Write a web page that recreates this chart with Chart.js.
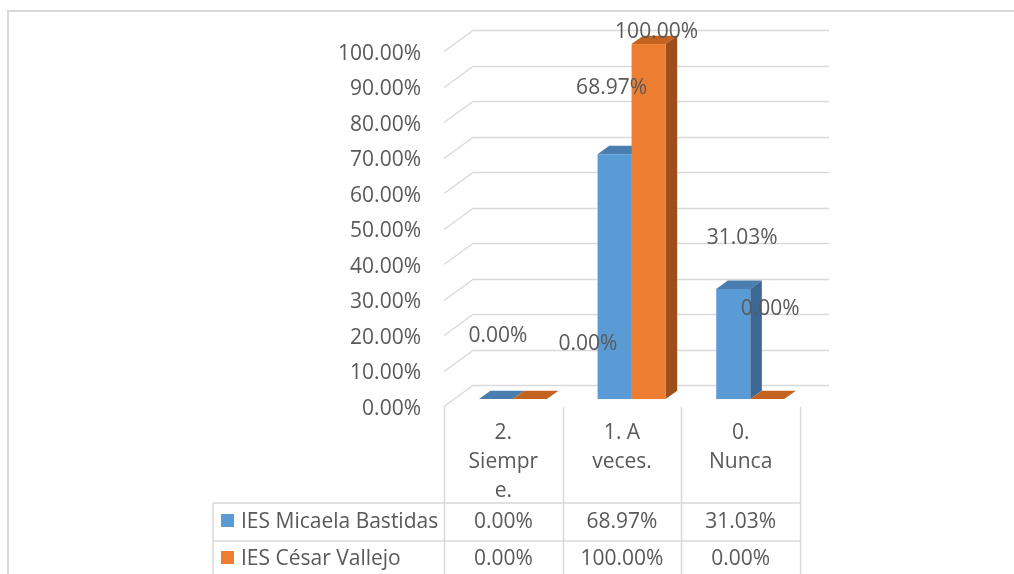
<!DOCTYPE html>
<html>
<head>
<meta charset="utf-8">
<script src="https://cdn.jsdelivr.net/npm/chart.js@4.4.1/dist/chart.umd.min.js"></script>
<style>
  html, body { margin: 0; padding: 0; background: #ffffff; }
  #wrap { position: relative; width: 1014px; height: 574px; }
  canvas { display: block; }
</style>
</head>
<body>
<div id="wrap"><canvas id="chart" width="1014" height="574"></canvas></div>
<script>
// Categories (wrapped as they appear in the data table under the plot)
const categories = [['2.', 'Siempr', 'e.'], ['1. A', 'veces.'], ['0.', 'Nunca']];
const seriesNames = ['IES Micaela Bastidas', 'IES César Vallejo'];
// Percentages per category
const micaelaBastidas = [0, 68.97, 31.03];
const cesarVallejo = [0, 100, 0];
// Value axis ticks
const yTicks = [0, 10, 20, 30, 40, 50, 60, 70, 80, 90, 100];

// Colours: front face, top face, side face
const palette = [
  { front: '#5B9BD5', top: '#4A7DB0', side: '#3D6893' },
  { front: '#ED7D31', top: '#C4621F', side: '#9E4E19' }
];
// Data-label nudges (px) from the top-front centre of each bar
const labelNudge = [
  [[2, -63], [-3, -66], [9, -51]],
  [[58, -55], [8, -12], [3, -90]]
];

const FONT = '"Open Sans", "DejaVu Sans", sans-serif';
const FONT_SIZE = 21;
const TEXT = '#595959';
const GRID = '#D9D9D9';
const WALL = { dx: 29, dy: -21 };   // depth of the plot box
const BAR_FRONT = 0.33;             // where the bars start inside the depth
const BAR_DEPTH = 0.40;             // how deep the bars are

const fmt = v => v.toFixed(2) + '%';

function poly(ctx, pts, fill) {
  ctx.beginPath();
  ctx.moveTo(pts[0][0], pts[0][1]);
  for (let i = 1; i < pts.length; i++) ctx.lineTo(pts[i][0], pts[i][1]);
  ctx.closePath();
  ctx.fillStyle = fill;
  ctx.fill();
}

const box3d = {
  id: 'box3d',
  beforeDatasetsDraw(chart) {
    const { ctx, chartArea: a, scales: { y } } = chart;
    ctx.save();
    // Side wall and back wall gridlines
    ctx.strokeStyle = GRID;
    ctx.lineWidth = 1.3;
    yTicks.forEach(v => {
      const yf = Math.round(y.getPixelForValue(v)) + 0.5;
      ctx.beginPath();
      ctx.moveTo(a.left, yf);
      ctx.lineTo(a.left + WALL.dx, yf + WALL.dy);
      ctx.lineTo(a.right + WALL.dx, yf + WALL.dy);
      ctx.stroke();
    });

    // Bars as boxes
    const sx = WALL.dx * BAR_FRONT, sy = WALL.dy * BAR_FRONT;
    const ddx = WALL.dx * BAR_DEPTH, ddy = WALL.dy * BAR_DEPTH;
    const n = chart.data.labels.length;
    for (let i = 0; i < n; i++) {
      chart.data.datasets.forEach((ds, di) => {
        const el = chart.getDatasetMeta(di).data[i];
        const c = palette[di];
        const l = el.x - el.width / 2 + sx, r = el.x + el.width / 2 + sx;
        const t = el.y + sy, b = el.base + sy;
        // top face
        poly(ctx, [[l, t], [l + ddx, t + ddy], [r + ddx, t + ddy], [r, t]], c.top);
        // right face and front face
        if (b - t > 0.5) {
          poly(ctx, [[r, t], [r + ddx, t + ddy], [r + ddx, b + ddy], [r, b]], c.side);
          ctx.fillStyle = c.front;
          ctx.fillRect(l, t, r - l, b - t);
        }
      });
    }
    ctx.restore();
    return false;
  },
  afterDraw(chart) {
    const { ctx, chartArea: a } = chart;
    const sx = WALL.dx * BAR_FRONT, sy = WALL.dy * BAR_FRONT;
    ctx.save();
    ctx.font = FONT_SIZE + 'px ' + FONT;
    ctx.fillStyle = TEXT;
    ctx.textAlign = 'center';
    ctx.textBaseline = 'middle';

    // Data labels
    chart.data.datasets.forEach((ds, di) => {
      chart.getDatasetMeta(di).data.forEach((el, i) => {
        const [nx, ny] = labelNudge[di][i];
        ctx.fillText(fmt(ds.data[i]), el.x + sx + nx, el.y + sy + ny);
      });
    });

    // Data table
    const n = chart.data.labels.length;
    const colW = (a.right - a.left) / n;
    const row1 = 503, row2 = 541, tableLeft = 213, bottom = 574;
    ctx.strokeStyle = GRID;
    ctx.lineWidth = 1.5;
    ctx.beginPath();
    for (let i = 0; i <= n; i++) {
      const x = Math.round(a.left + i * colW) + 0.5;
      ctx.moveTo(x, a.bottom + 1);
      ctx.lineTo(x, bottom);
    }
    ctx.moveTo(tableLeft, row1); ctx.lineTo(a.right, row1);
    ctx.moveTo(tableLeft, row2); ctx.lineTo(a.right, row2);
    ctx.moveTo(tableLeft, row1); ctx.lineTo(tableLeft, bottom);
    ctx.stroke();

    // Category headers
    ctx.fillStyle = TEXT;
    chart.data.labels.forEach((lines, i) => {
      const cx = a.left + (i + 0.5) * colW;
      lines.forEach((s, k) => ctx.fillText(s, cx, 433 + k * 29));
    });

    // Series rows with legend keys
    const rowsY = [522, 559];
    chart.data.datasets.forEach((ds, di) => {
      const yy = rowsY[di];
      ctx.fillStyle = palette[di].front;
      ctx.fillRect(221, yy - 8, 13, 13);
      ctx.fillStyle = TEXT;
      ctx.textAlign = 'left';
      ctx.fillText(ds.label, 241, yy);
      ctx.textAlign = 'center';
      ds.data.forEach((v, i) => ctx.fillText(fmt(v), a.left + (i + 0.5) * colW, yy));
    });

    // Outer frame
    ctx.strokeStyle = GRID;
    ctx.lineWidth = 2;
    ctx.beginPath();
    ctx.moveTo(8, 574);
    ctx.lineTo(8, 11);
    ctx.lineTo(1014, 11);
    ctx.stroke();
    ctx.restore();
  }
};

new Chart(document.getElementById('chart'), {
  type: 'bar',
  data: {
    labels: categories,
    datasets: [
      { label: seriesNames[0], data: micaelaBastidas, backgroundColor: palette[0].front },
      { label: seriesNames[1], data: cesarVallejo, backgroundColor: palette[1].front }
    ]
  },
  options: {
    responsive: false,
    animation: false,
    devicePixelRatio: 1,
    categoryPercentage: 0.573,
    barPercentage: 1,
    layout: { padding: { top: 51, bottom: 168, right: 214, left: 0 } },
    plugins: { legend: { display: false }, tooltip: { enabled: false }, title: { display: false } },
    scales: {
      x: { display: false, offset: true },
      y: {
        min: 0, max: 100,
        afterFit: s => { s.width = 444; },
        afterBuildTicks: s => { s.ticks = yTicks.map(v => ({ value: v })); },
        grid: { display: false, drawTicks: false },
        border: { display: false },
        ticks: {
          padding: 23,
          labelOffset: 3,
          color: TEXT,
          font: { family: FONT, size: FONT_SIZE },
          callback: v => fmt(v)
        }
      }
    }
  },
  plugins: [box3d]
});
</script>
</body>
</html>
